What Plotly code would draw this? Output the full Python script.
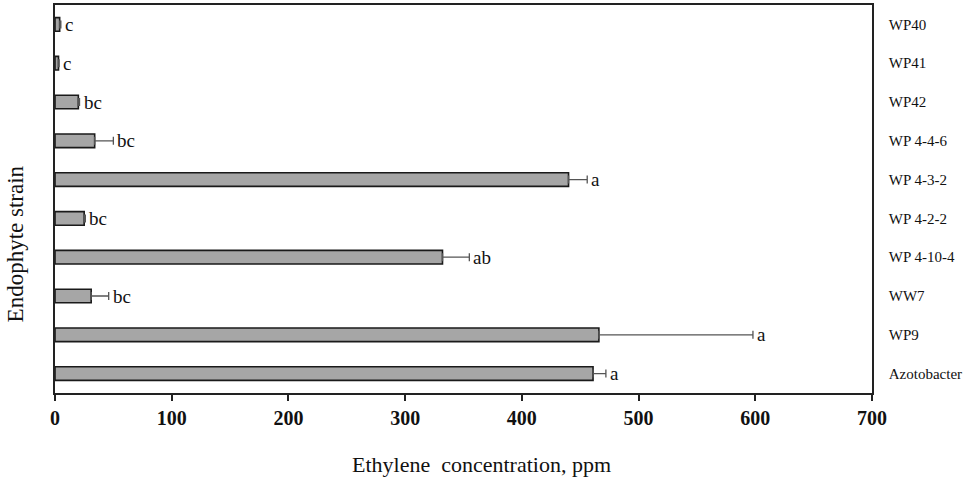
import plotly.graph_objects as go

strains = ["WP40", "WP41", "WP42", "WP 4-4-6", "WP 4-3-2", "WP 4-2-2",
           "WP 4-10-4", "WW7", "WP9", "Azotobacter"]
ethylene = [4, 3, 20, 34, 440, 25, 332, 31, 466, 461]
err_plus = [1, 0.5, 1, 16, 16, 1, 23, 15, 132, 11]
letters = ["c", "c", "bc", "bc", "a", "bc", "ab", "bc", "a", "a"]
x_ticks = [0, 100, 200, 300, 400, 500, 600, 700]

SERIF = "Liberation Serif, Times New Roman, serif"

fig = go.Figure()
fig.add_trace(go.Bar(
    x=ethylene, y=strains, orientation="h", width=0.35,
    marker=dict(color="#a6a6a6", line=dict(color="#1a1a1a", width=1.6)),
    error_x=dict(type="data", array=err_plus, arrayminus=[0] * len(err_plus),
                 symmetric=False, color="#555555", thickness=1.3, width=4),
    showlegend=False, hoverinfo="skip",
))

annotations = []
for s, v, e, l in zip(strains, ethylene, err_plus, letters):
    annotations.append(dict(x=v + e, y=s, xref="x", yref="y", text=l,
                            showarrow=False, xanchor="left", yanchor="middle",
                            xshift=2, font=dict(family=SERIF, size=19, color="#111")))

annotations.append(dict(x=0.5215, y=-0.185, xref="paper", yref="paper",
                        text="Ethylene  concentration, ppm", showarrow=False,
                        xanchor="center", yanchor="middle",
                        font=dict(family=SERIF, size=22, color="#111")))
annotations.append(dict(x=-0.048, y=0.385, xref="paper", yref="paper",
                        text="Endophyte strain", showarrow=False, textangle=-90,
                        xanchor="center", yanchor="middle",
                        font=dict(family=SERIF, size=23, color="#111")))

fig.update_layout(
    width=970, height=479,
    margin=dict(l=55, r=98, t=3, b=86),
    plot_bgcolor="white", paper_bgcolor="white",
    annotations=annotations,
    xaxis=dict(range=[0, 700], tickvals=x_ticks, ticks="outside", ticklen=6,
               tickwidth=1.5, tickcolor="#222", showline=True, linecolor="#222",
               linewidth=1.5, mirror=True, showgrid=False, zeroline=False,
               tickfont=dict(family=SERIF, size=20, color="#111", weight="bold")),
    yaxis=dict(categoryorder="array", categoryarray=strains, autorange="reversed",
               side="right", ticks="", showline=True, linecolor="#222", linewidth=1.5,
               mirror=True, showgrid=False, zeroline=False, ticklabelstandoff=12,
               automargin=False,
               tickfont=dict(family=SERIF, size=15, color="#111")),
)

fig.write_html("out.html", config={"displayModeBar": False},
               post_script="document.body.style.margin='0';")
